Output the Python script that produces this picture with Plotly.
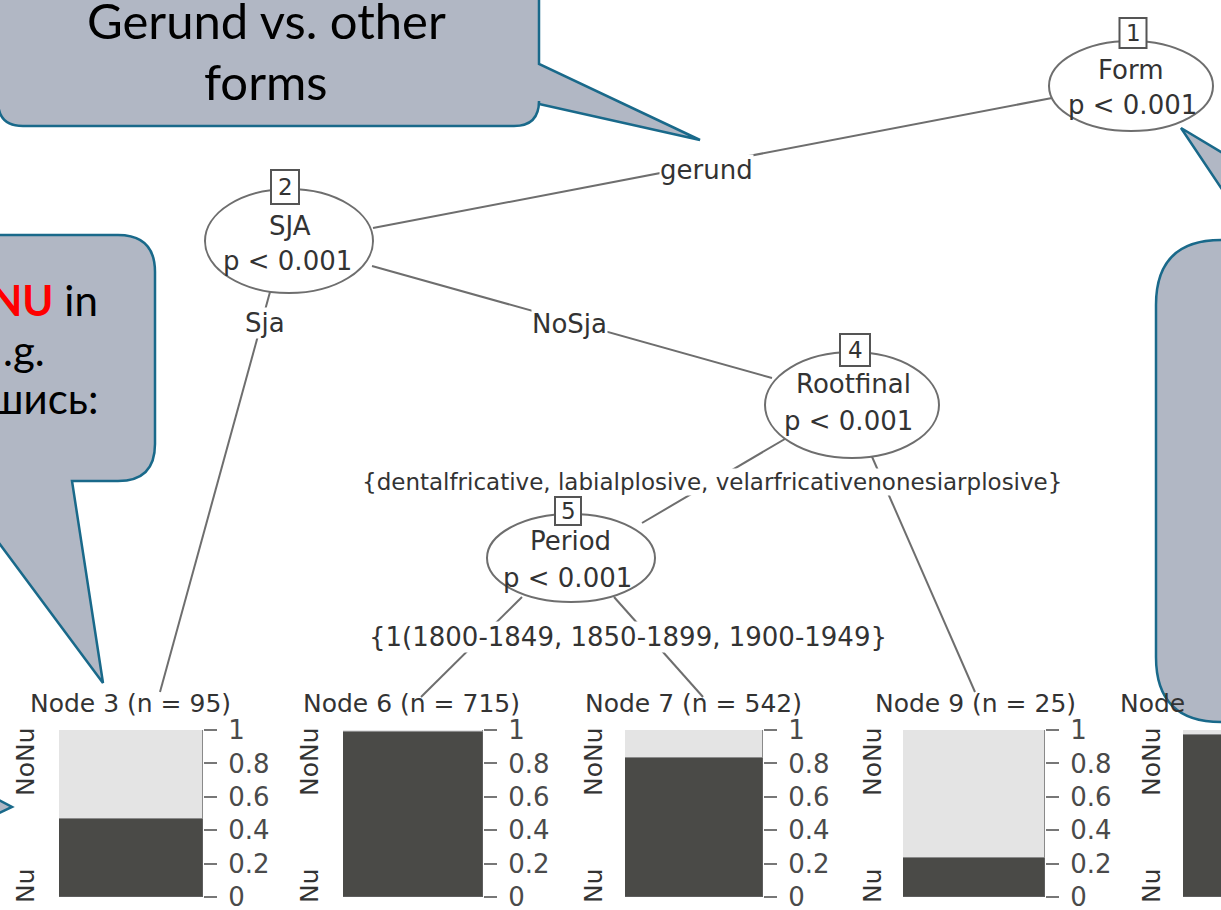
import plotly.graph_objects as go

W, H = 1221, 910

# ---------------- data ----------------
leaf_ids = [3, 6, 7, 9, 10]
leaf_n = [95, 715, 542, 25, None]
share_nu = [0.47, 0.99, 0.835, 0.235, 0.97]      # dark segment (bottom class)
share_nonu = [0.53, 0.01, 0.165, 0.765, 0.03]    # light segment (top class)
class_bottom = "Nu"
class_top = "NoNu"
y_tick_vals = [0, 0.2, 0.4, 0.6, 0.8, 1]
y_tick_text = ["0", "0.2", "0.4", "0.6", "0.8", "1"]

split_ids = [1, 2, 4, 5]
split_vars = ["Form", "SJA", "Rootfinal", "Period"]
split_p = ["p < 0.001", "p < 0.001", "p < 0.001", "p < 0.001"]

edge_texts = ["gerund", "Sja", "NoSja",
              "{dentalfricative, labialplosive, velarfricativenonesiarplosive}",
              "{1(1800-1849, 1850-1899, 1900-1949}"]

callout_top_lines = ["Gerund vs. other", "forms"]
callout_left_lines = ["<b><span style='color:#FF0000'>NU</span></b> in", ".g.", "шись:"]

# ---------------- layout geometry (pixels) ----------------
leaf_bar_px = [(59, 203), (343, 483), (625, 763), (903, 1045), (1183, 1323)]
leaf_title_px = [130, 411, 693, 975, 1152]
leaf_lab_px = [25, 309, 593, 872, 1151]
BAR_TOP, BAR_BOT, TITLE_Y = 730, 897, 703

split_geom = [(1131, 86, 82, 45), (289, 241, 84, 52), (852, 405, 87, 53), (571, 558, 84, 44)]
box_geom = [(1133, 33, 27, 30), (285, 187, 28, 34), (855, 350, 30, 32), (568, 511, 26, 28)]
var_pos = [(1131, 70), (290, 226), (853, 384), (570, 541)]
p_pos = [(1132, 105), (287, 261), (848, 421), (567, 578)]

edge_segs = [((373, 228), (1052, 98)), ((270, 292), (160, 692)), ((372, 266), (772, 378)),
             ((790, 436), (642, 523)), ((866, 443), (975, 692)),
             ((522, 597), (421, 697)), ((614, 597), (703, 697))]
edge_label_pos = [(706, 170), (265, 323), (569, 324), (712, 482), (628, 637)]
edge_label_size = [26, 26, 26, 23, 26]

TREE_TXT = "#333333"
TREE_LINE = "#6e6e6e"
FONT = "DejaVu Sans"
CALL_FILL = "#B1B7C4"
CALL_LINE = "#19698A"
DARK = "#4a4a47"
LIGHT = "#e4e4e4"

fig = go.Figure()
# base (pixel) axes
fig.add_trace(go.Scatter(x=[], y=[], xaxis="x", yaxis="y", showlegend=False, hoverinfo="skip"))

layout_axes = {}
layout_axes["xaxis"] = dict(range=[0, W], domain=[0, 1], visible=False, fixedrange=True,
                            automargin=False)
layout_axes["yaxis"] = dict(range=[H, 0], domain=[0, 1], visible=False, fixedrange=True,
                            automargin=False)

shapes = []
annotations = []


def txt(x, y, s, size=26, color=TREE_TXT, font=FONT, bg=None, xanchor="center", angle=0):
    d = dict(x=x, y=y, xref="x", yref="y", text=s, showarrow=False,
             font=dict(family=font, size=size, color=color), xanchor=xanchor,
             yanchor="middle", textangle=angle, borderpad=0)
    if bg:
        d["bgcolor"] = bg
    annotations.append(d)


# ---------- leaf panels ----------
for i, nid in enumerate(leaf_ids):
    k = i + 2
    l, r = leaf_bar_px[i]
    xd = [l / W, min(r / W, 1.0)]
    span = r - l
    vis = (min(r, W) - l) / span
    layout_axes[f"xaxis{k}"] = dict(domain=xd, range=[-0.5, -0.5 + vis], visible=False,
                                   anchor=f"y{k}", fixedrange=True, automargin=False)
    last = nid == leaf_ids[-1]
    layout_axes[f"yaxis{k}"] = dict(
        domain=[1 - BAR_BOT / H, 1 - BAR_TOP / H], range=[0, 1], anchor=f"x{k}", side="right",
        tickvals=y_tick_vals, ticktext=y_tick_text, ticks="" if last else "outside",
        ticklen=13, tickwidth=2, tickcolor="#777", showticklabels=not last,
        tickfont=dict(family=FONT, size=26, color="#4a4a4a"), ticklabelstandoff=6,
        ticklabeloverflow="allow",
        showgrid=False, zeroline=False, showline=False, fixedrange=True, automargin=False)
    fig.add_trace(go.Bar(x=[0], y=[share_nu[i]], width=[1], xaxis=f"x{k}", yaxis=f"y{k}",
                         marker=dict(color=DARK, line=dict(color="#5e5e5e", width=1.5)),
                         showlegend=False, hoverinfo="skip"))
    fig.add_trace(go.Bar(x=[0], y=[share_nonu[i]], width=[1], xaxis=f"x{k}", yaxis=f"y{k}",
                         marker=dict(color=LIGHT, line=dict(color="#8a8a8a", width=1.5)),
                         showlegend=False, hoverinfo="skip"))
    title = f"Node {nid} (n = {leaf_n[i]})" if leaf_n[i] is not None else "Node"
    txt(leaf_title_px[i], TITLE_Y, title, size=25)
    txt(leaf_lab_px[i], 762, class_top, size=25, angle=-90)
    txt(leaf_lab_px[i], 886, class_bottom, size=25, angle=-90)

# ---------- tree edges ----------
for (a, b) in edge_segs:
    shapes.append(dict(type="line", xref="x", yref="y", x0=a[0], y0=a[1], x1=b[0], y1=b[1],
                       line=dict(color=TREE_LINE, width=2), layer="above"))

# ---------- split nodes ----------
for i, sid in enumerate(split_ids):
    cx, cy, rx, ry = split_geom[i]
    shapes.append(dict(type="circle", xref="x", yref="y", x0=cx - rx, x1=cx + rx, y0=cy - ry,
                       y1=cy + ry, line=dict(color=TREE_LINE, width=2), fillcolor="white",
                       layer="above"))
    bx, by, bw, bh = box_geom[i]
    shapes.append(dict(type="rect", xref="x", yref="y", x0=bx - bw / 2, x1=bx + bw / 2,
                       y0=by - bh / 2, y1=by + bh / 2, line=dict(color="#555", width=2),
                       fillcolor="white", layer="above"))
    txt(bx, by, str(sid), size=23)
    txt(var_pos[i][0], var_pos[i][1], split_vars[i], size=26)
    txt(p_pos[i][0], p_pos[i][1], split_p[i], size=26)

for i, s in enumerate(edge_texts):
    txt(edge_label_pos[i][0], edge_label_pos[i][1], s, size=edge_label_size[i], bg="white")

# ---------- callouts ----------
def callout(path):
    shapes.append(dict(type="path", xref="x", yref="y", path=path, fillcolor=CALL_FILL,
                       line=dict(color=CALL_LINE, width=2.5), layer="above"))


x0, y0, x1, y1, r = -2, -60, 539, 126, 25
callout(f"M {x0+r},{y0} H {x1-r} Q {x1},{y0} {x1},{y0+r} V 64 L 700,140 L {x1},104 "
        f"V {y1-r} Q {x1},{y1} {x1-r},{y1} H {x0+r} Q {x0},{y1} {x0},{y1-r} "
        f"V {y0+r} Q {x0},{y0} {x0+r},{y0} Z")

x0, y0, x1, y1, r = -120, 235, 155, 481, 37
callout(f"M {x0+r},{y0} H {x1-r} Q {x1},{y0} {x1},{y0+r} V {y1-r} Q {x1},{y1} {x1-r},{y1} "
        f"H 72 L 103,683 L -47,{y1} H {x0+r} Q {x0},{y1} {x0},{y1-r} V {y0+r} "
        f"Q {x0},{y0} {x0+r},{y0} Z")

x0, y0, x1, y1, r = 1156, 240, 1500, 722, 65
callout(f"M {x0+r},{y0} H 1256 L 1181,128 L 1368,{y0} H {x1} V {y1} H {x0+r} "
        f"Q {x0},{y1} {x0},{y1-r} V {y0+r} Q {x0},{y0} {x0+r},{y0} Z")

callout("M -20,790 L 12,807 L -20,822 Z")

txt(266, 20, callout_top_lines[0], size=49, color="black", font="Lato")
txt(266, 81, callout_top_lines[1], size=49, color="black", font="Lato")
txt(99, 300, callout_left_lines[0], size=42, color="black", font="Lato", xanchor="right")
txt(46, 350, callout_left_lines[1], size=42, color="black", font="Lato", xanchor="right")
txt(99, 398, callout_left_lines[2], size=42, color="black", font="Lato", xanchor="right")

fig.update_layout(width=W, height=H,
                  margin=dict(l=0, r=0, t=0, b=0, pad=0, autoexpand=False),
                  paper_bgcolor="white", plot_bgcolor="rgba(0,0,0,0)",
                  barmode="stack", bargap=0, showlegend=False,
                  shapes=shapes, annotations=annotations, **layout_axes)

fig.write_html("out.html", config={"displayModeBar": False})
